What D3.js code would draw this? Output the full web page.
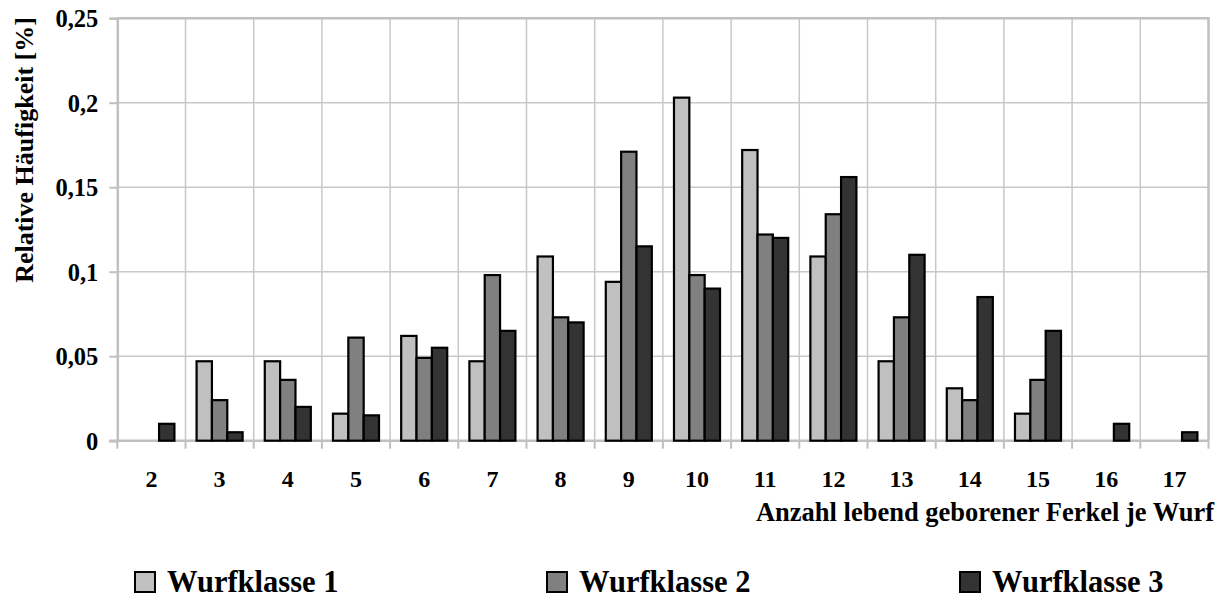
<!DOCTYPE html>
<html><head><meta charset="utf-8">
<script src="https://cdn.jsdelivr.net/npm/d3@7"></script>
<style>
body{margin:0;background:#fff;}
svg text{font-family:"Liberation Serif","Times New Roman",serif;font-weight:bold;fill:#000;}
</style></head>
<body><svg id="c" width="1226" height="598"></svg>
<script>
const categories = ["2","3","4","5","6","7","8","9","10","11","12","13","14","15","16","17"];
const seriesNames = ["Wurfklasse 1","Wurfklasse 2","Wurfklasse 3"];
const wurfklasse1 = [0,0.047,0.047,0.016,0.062,0.047,0.109,0.094,0.203,0.172,0.109,0.047,0.031,0.016,0,0];
const wurfklasse2 = [0,0.024,0.036,0.061,0.049,0.098,0.073,0.171,0.098,0.122,0.134,0.073,0.024,0.036,0,0];
const wurfklasse3 = [0.010,0.005,0.020,0.015,0.055,0.065,0.070,0.115,0.090,0.120,0.156,0.110,0.085,0.065,0.010,0.005];
const yTicks = [0,0.05,0.1,0.15,0.2,0.25];
const yTickLabels = ["0","0,05","0,1","0,15","0,2","0,25"];
const colors = ["#c0c0c0","#808080","#333333"];
const seriesValues = [wurfklasse1, wurfklasse2, wurfklasse3];

const svg = d3.select("#c");
const L = 117.3, R = 1208.5, T = 18.2, B = 440.7;
const x = d3.scaleBand().domain(categories).range([L, R]).padding(0);
const y = d3.scaleLinear().domain([0, 0.25]).range([B, T]);
const bw = x.bandwidth();
const gw = bw * 0.675;
const xs = d3.scaleBand().domain(seriesNames).range([(bw - gw) / 2, (bw + gw) / 2]).padding(0);

// grid
const g = svg.append("g");
g.selectAll("line.h").data(yTicks.slice(1, -1)).join("line")
  .attr("x1", L).attr("x2", R).attr("y1", d => y(d)).attr("y2", d => y(d))
  .attr("stroke", "#c8c8c8").attr("stroke-width", 1.5);
g.selectAll("line.v").data(categories.slice(1)).join("line")
  .attr("x1", d => x(d)).attr("x2", d => x(d)).attr("y1", T).attr("y2", B)
  .attr("stroke", "#c8c8c8").attr("stroke-width", 1.5);
g.append("path").attr("d", `M${L},${T}H${R}V${B}`).attr("fill", "none")
  .attr("stroke", "#c0c0c0").attr("stroke-width", 2.5);

// axes
const yAxis = d3.axisLeft(y).tickValues(yTicks).tickSize(8).tickFormat((d, i) => yTickLabels[i]);
const ya = svg.append("g").attr("transform", `translate(${L},0)`).call(yAxis);
ya.select(".domain").attr("stroke", "#c0c0c0").attr("stroke-width", 2.5);
ya.selectAll(".tick line").attr("stroke", "#c0c0c0").attr("stroke-width", 2);
ya.selectAll(".tick text").attr("x", -19).attr("font-size", 24.5).attr("dy", "0.35em");

const xAxis = d3.axisBottom(x).tickSize(0).tickSizeOuter(0);
const xa = svg.append("g").attr("transform", `translate(0,${B})`).call(xAxis);
xa.select(".domain").remove();
xa.selectAll(".tick text").attr("font-size", 24).attr("y", 46).attr("dy", "0");
xa.append("line").attr("x1", L - 8).attr("x2", R).attr("y1", 0).attr("y2", 0)
  .attr("stroke", "#c0c0c0").attr("stroke-width", 2.5);
xa.selectAll("line.bt").data(categories.concat(["end"])).join("line").attr("class", "bt")
  .attr("x1", (d, i) => L + i * bw).attr("x2", (d, i) => L + i * bw)
  .attr("y1", 0).attr("y2", 8).attr("stroke", "#c0c0c0").attr("stroke-width", 2);

// bars
seriesValues.forEach((vals, si) => {
  svg.append("g").selectAll("rect").data(vals.map((v, i) => ({c: categories[i], v})).filter(d => d.v > 0))
    .join("rect")
    .attr("x", d => x(d.c) + xs(seriesNames[si]))
    .attr("width", xs.bandwidth())
    .attr("y", d => y(d.v))
    .attr("height", d => y(0) - y(d.v))
    .attr("fill", colors[si]).attr("stroke", "#000").attr("stroke-width", 2.2);
});

// titles
svg.append("text").attr("transform", `translate(33,${(17 + 283) / 2}) rotate(-90)`)
  .attr("text-anchor", "middle").attr("font-size", 26).text("Relative Häufigkeit [%]");
svg.append("text").attr("x", 1214).attr("y", 521).attr("text-anchor", "end")
  .attr("font-size", 26.5).text("Anzahl lebend geborener Ferkel je Wurf");

// legend
const legX = [135, 547, 960];
const lg = svg.append("g").selectAll("g").data(seriesNames).join("g")
  .attr("transform", (d, i) => `translate(${legX[i]},572)`);
lg.append("rect").attr("width", 20).attr("height", 20).attr("fill", (d, i) => colors[i])
  .attr("stroke", "#000").attr("stroke-width", 2);
lg.append("text").attr("x", 32).attr("y", 20).attr("font-size", 30.5).text(d => d);
</script></body></html>
